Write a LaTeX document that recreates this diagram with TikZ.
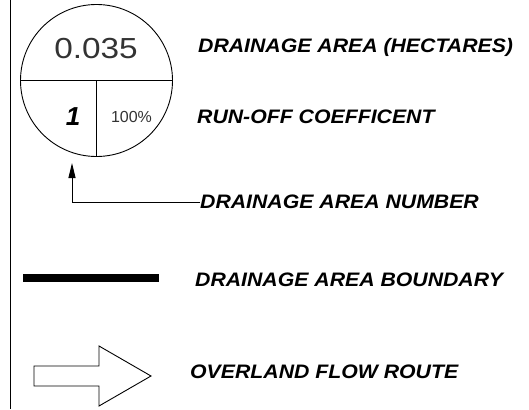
\documentclass[tikz,border=0pt]{standalone}
\usepackage{fontspec}
\setmainfont{Liberation Sans}
\usetikzlibrary{arrows.meta}
\newcommand{\widetext}[1]{\scalebox{1.09}[1]{#1}}
\begin{document}
\begin{tikzpicture}[x=1pt,y=-1pt,
  thin line/.style={line width=0.9pt},
  lbl/.style={anchor=west,inner sep=0pt,font=\fontsize{19.5}{20}\selectfont\bfseries\itshape}]
\useasboundingbox (0,0) rectangle (529,409);
\draw[thin line] (10,0) -- (10,409);
% symbol circle
\node[draw,circle,thin line,minimum size=152pt,inner sep=0pt] (c) at (96.5,80.5) {};
\draw[thin line] (c.west) -- (c.east);
\draw[thin line] (c.center) -- (c.south);
\node[inner sep=0pt,text=black!80] (area) at (96,49) {\fontsize{29}{30}\selectfont\scalebox{1.15}[1]{0.035}};
\node[inner sep=0pt,font=\fontsize{26}{27}\selectfont\bfseries\itshape] (num) at (73,117) {1};
\node[inner sep=0pt,text=black!80] (coef) at (131.5,117) {\fontsize{16}{17}\selectfont 100\%};
% labels
\node[lbl] (l1) at (198,47) {\widetext{DRAINAGE AREA (HECTARES)}};
\node[lbl] (l2) at (197,117) {\widetext{RUN-OFF COEFFICENT}};
\node[lbl] (l3) at (200,202) {\widetext{DRAINAGE AREA NUMBER}};
\node[lbl] (l4) at (195,280) {\widetext{DRAINAGE AREA BOUNDARY}};
\node[lbl] (l5) at (190,372) {\widetext{OVERLAND FLOW ROUTE}};
% leader arrow
\coordinate (tip) at (72,163);
\draw[thin line,-{Triangle[length=15pt,width=7pt]}] (l3.west) -| (tip);
% boundary line
\coordinate (b1) at (23,278);
\coordinate (b2) at (159,278);
\draw[line width=8pt] (b1) -- (b2);
% flow arrow
\draw[thin line,line join=miter] (34,366) -- (99,366) -- (99,346) -- (151,376) -- (99,406) -- (99,386) -- (34,386) -- cycle;
\end{tikzpicture}
\end{document}
